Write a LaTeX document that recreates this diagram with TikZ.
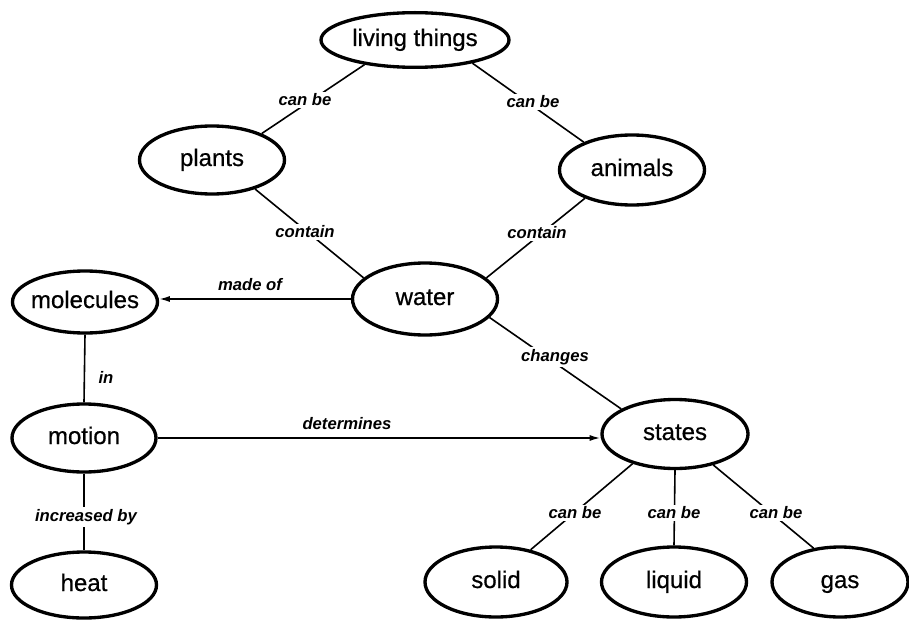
\documentclass[tikz,border=0pt]{standalone}
\usepackage{fontspec}
\setmainfont{Liberation Sans}
\newfontfamily\nodefont{Liberation Sans}[FakeBold=0.6]
\usetikzlibrary{shapes.geometric,arrows.meta}
\begin{document}
\begin{tikzpicture}[x=0.75pt,y=-0.75pt,
  ell/.style={ellipse, draw, line width=2.5pt, inner sep=0pt},
  ntext/.style={font=\nodefont\fontsize{18}{20}\selectfont, text height=12.5pt, text depth=3.5pt, inner sep=0pt},
  lbl/.style={fill=white, inner sep=1.5pt, font=\fontsize{12.5}{14}\selectfont\bfseries\itshape},
  conn/.style={line width=1.2pt},
  arr/.style={conn, -{Latex[length=8pt,width=4.5pt]}}]
\useasboundingbox (0,0) rectangle (909,624);
% nodes
\node[ell, minimum width=141pt, minimum height=41pt, label={[ntext]center:living things}] (living) at (415,40) {};
\node[ell, minimum width=108.75pt, minimum height=51pt, label={[ntext]center:plants}] (plants) at (212,160) {};
\node[ell, minimum width=108.75pt, minimum height=52.5pt, label={[ntext]center:animals}] (animals) at (632,170) {};
\node[ell, minimum width=108.75pt, minimum height=54pt, label={[ntext]center:water}] (water) at (425,299) {};
\node[ell, minimum width=108.75pt, minimum height=46.5pt, label={[ntext]center:molecules}] (molecules) at (85,302) {};
\node[ell, minimum width=108pt, minimum height=51pt, label={[ntext]center:motion}] (motion) at (84,438) {};
\node[ell, minimum width=108.75pt, minimum height=49.5pt, label={[ntext]center:heat}] (heat) at (84,585) {};
\node[ell, minimum width=109.5pt, minimum height=51.75pt, label={[ntext]center:states}] (states) at (675,434) {};
\node[ell, minimum width=106.5pt, minimum height=52.5pt, label={[ntext]center:solid}] (solid) at (496,582) {};
\node[ell, minimum width=108.75pt, minimum height=52.5pt, label={[ntext]center:liquid}] (liquid) at (674,582) {};
\node[ell, minimum width=102pt, minimum height=52.5pt, label={[ntext]center:gas}] (gas) at (840,582) {};
% connectors
\draw[conn] (living.206) -- (plants.28);
\draw[conn] (living.-22) -- (animals.150);
\draw[conn] (plants.-34) -- (water.161);
\draw[conn] (animals.211) -- (water.19);
\draw[arr] (water.west) -- (water.west -| molecules.east);
\draw[conn] (water.-16) -- (states.155);
\draw[conn] (molecules.south) -- (motion.north);
\draw[arr] (motion.east) -- (motion.east -| states.west);
\draw[conn] (motion.south) -- (heat.north);
\draw[conn] (states.215) -- (solid.43);
\draw[conn] (states.south) -- (liquid.north);
\draw[conn] (states.-39) -- (gas.128);
% labels
\node[lbl] (l1) at (305,100) {can be};
\node[lbl] (l2) at (533,102) {can be};
\node[lbl] (l3) at (305,232) {contain};
\node[lbl] (l4) at (537,233) {contain};
\node[lbl, fill=none] (l5) at (250,285) {made of};
\node[lbl] (l6) at (555,357) {changes};
\node[lbl, fill=none] (l7) at (106,377) {in};
\node[lbl, fill=none] (l8) at (347,424) {determines};
\node[lbl] (l9) at (86,517) {increased by};
\node[lbl] (l10) at (575,513) {can be};
\node[lbl] (l11) at (674,513) {can be};
\node[lbl] (l12) at (776,513) {can be};
\end{tikzpicture}
\end{document}
